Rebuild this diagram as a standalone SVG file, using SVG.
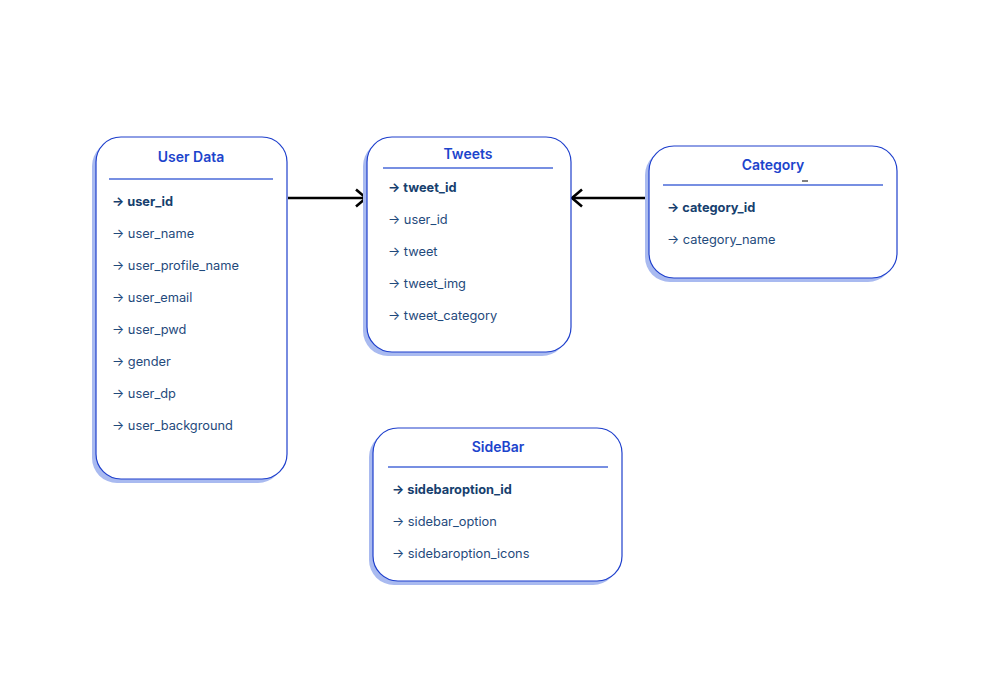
<svg xmlns="http://www.w3.org/2000/svg" width="1008" height="700" viewBox="0 0 1008 700">
<defs>
<style>
.shadow{fill:#a9baf0;stroke:none}
.box{fill:#ffffff;stroke:#1e3fcc;stroke-width:1.2}
.title{font-family:Inter,"Noto Sans",sans-serif;font-size:14px;font-weight:600;fill:#1c44cc;text-anchor:middle}
.sep{stroke:#4a6ad8;stroke-width:1.3}
.row{font-family:Inter,"Noto Sans",sans-serif;font-size:12.8px;fill:#1f4a7c}
.key{font-weight:700;fill:#173f6e}
.conn{stroke:#000;stroke-width:2.6;fill:none}
</style>
<marker id="arr" markerWidth="14" markerHeight="20" refX="12" refY="10" orient="auto" markerUnits="userSpaceOnUse">
<path d="M2,1.5 L12,10 L2,18.5" fill="none" stroke="#000" stroke-width="2.6"/>
</marker>
</defs>
<rect width="1008" height="700" fill="#ffffff"/>
<g id="connectors">
<line class="conn" x1="288" y1="198" x2="366" y2="198" marker-end="url(#arr)"/>
<line class="conn" x1="648" y1="198" x2="572" y2="198" marker-end="url(#arr)"/>
</g>
<g id="user-data">
<rect class="shadow" x="92" y="141" width="191" height="342" rx="25"/>
<rect class="box" x="96" y="137" width="191" height="342" rx="25"/>
<text class="title" x="191" y="162">User Data</text>
<line class="sep" x1="109" y1="179" x2="273" y2="179"/>
<text class="row key" x="112" y="206">→ user_id</text>
<text class="row" x="112" y="238">→ user_name</text>
<text class="row" x="112" y="270">→ user_profile_name</text>
<text class="row" x="112" y="302">→ user_email</text>
<text class="row" x="112" y="334">→ user_pwd</text>
<text class="row" x="112" y="366">→ gender</text>
<text class="row" x="112" y="398">→ user_dp</text>
<text class="row" x="112" y="430">→ user_background</text>
</g>
<g id="tweets">
<rect class="shadow" x="363" y="141" width="204" height="215" rx="25"/>
<rect class="box" x="367" y="137" width="204" height="215" rx="25"/>
<text class="title" x="468" y="159">Tweets</text>
<line class="sep" x1="383" y1="168" x2="553" y2="168"/>
<text class="row key" x="388" y="192">→ tweet_id</text>
<text class="row" x="388" y="224">→ user_id</text>
<text class="row" x="388" y="256">→ tweet</text>
<text class="row" x="388" y="288">→ tweet_img</text>
<text class="row" x="388" y="320">→ tweet_category</text>
</g>
<g id="category">
<rect class="shadow" x="645" y="150" width="248" height="132" rx="25"/>
<rect class="box" x="649" y="146" width="248" height="132" rx="25"/>
<text class="title" x="773" y="170">Category</text>
<line x1="802" y1="181" x2="808" y2="181" stroke="#000" stroke-width="1"/>
<line class="sep" x1="663" y1="185" x2="883" y2="185"/>
<text class="row key" x="667" y="212">→ category_id</text>
<text class="row" x="667" y="244">→ category_name</text>
</g>
<g id="sidebar">
<rect class="shadow" x="369" y="432" width="249" height="153" rx="25"/>
<rect class="box" x="373" y="428" width="249" height="153" rx="25"/>
<text class="title" x="498" y="452">SideBar</text>
<line class="sep" x1="388" y1="467" x2="608" y2="467"/>
<text class="row key" x="392" y="494">→ sidebaroption_id</text>
<text class="row" x="392" y="526">→ sidebar_option</text>
<text class="row" x="392" y="558">→ sidebaroption_icons</text>
</g>
</svg>
